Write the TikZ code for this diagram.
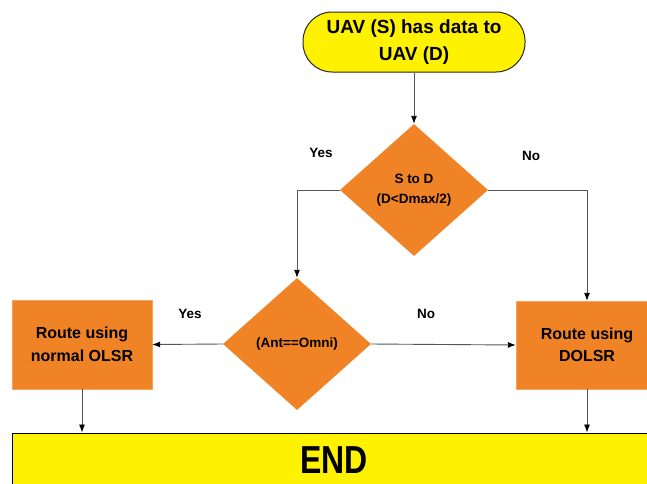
\documentclass[tikz,border=0pt]{standalone}
\usepackage{fontspec}
\setmainfont{Liberation Sans}
\usetikzlibrary{shapes.geometric, arrows.meta}

\definecolor{boxorange}{RGB}{240,131,38}
\definecolor{lineclr}{RGB}{85,85,85}

\begin{document}
\begin{tikzpicture}[x=1pt, y=-1pt,
    decision/.style={diamond, fill=boxorange, minimum width=148pt, minimum height=132pt, inner sep=0pt, align=center, font=\fontsize{13.5}{19.5}\selectfont\bfseries},
    action/.style={rectangle, fill=boxorange, draw=boxorange!75!white, minimum width=140pt, minimum height=89pt, align=center, font=\fontsize{16}{22.5}\selectfont\bfseries},
    flow/.style={draw=lineclr, line width=0.9pt, -{Latex[length=8pt, width=6pt, color=black]}},
    answer/.style={font=\fontsize{13.5}{16}\selectfont\bfseries}]

    \clip (0,0) rectangle (647,483);

    \node[rectangle, rounded corners=29pt, fill=yellow, draw=black!85, line width=1pt, minimum width=222pt, minimum height=60pt, align=center, font=\fontsize{19}{26.5}\selectfont\bfseries] (start) at (414,42) {UAV (S) has data to\\UAV (D)};

    \node[decision] (dist) at (414,190) {S to D\\(D<Dmax/2)};
    \node[decision] (ant) at (297,344) {(Ant==Omni)};

    \node[action] (olsr) at (82,344.5) {Route using\\normal OLSR};
    \node[action, minimum width=142pt, minimum height=88pt] (dolsr) at (587,345) {Route using\\DOLSR};

    \node[rectangle, fill=yellow, draw=black, line width=1pt, minimum width=644pt, minimum height=54pt, font=\fontsize{32}{36}\selectfont\bfseries] (finish) at (334,460) {\scalebox{1}[1.22]{END}};

    % answers
    \node[answer] (yes1) at (321,153) {Yes};
    \node[answer] (no1) at (531,156) {No};
    \node[answer] (yes2) at (190,314) {Yes};
    \node[answer] (no2) at (426,314) {No};

    \draw[flow] (start) -- (dist);
    \draw[flow] (dist.west) -| (ant.north);
    \draw[flow] (dist.east) -| (dolsr.north);
    \draw[flow] (ant.west) -- (olsr.east);
    \draw[flow] (ant.east) -- (dolsr.west);
    \draw[flow] (olsr.south) -- (olsr.south |- finish.north);
    \draw[flow] (dolsr.south) -- (dolsr.south |- finish.north);

\end{tikzpicture}
\end{document}
